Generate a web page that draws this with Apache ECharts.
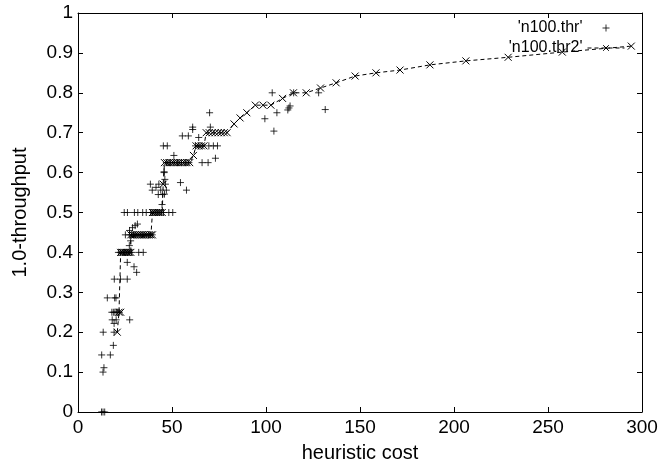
<!DOCTYPE html>
<html>
<head>
<meta charset="utf-8">
<script src="https://cdn.jsdelivr.net/npm/echarts@6/dist/echarts.min.js"></script>
<style>
  html, body { margin: 0; padding: 0; background: #fff; }
  #chart { width: 662px; height: 468px; }
</style>
</head>
<body>
<div id="chart"></div>
<script>
// n100.thr : scattered '+' points (heuristic cost, 1.0-throughput)
const thrCost = [
  12.5, 13.3, 14.2, 13.3, 13.8, 12.6, 17.2, 18.8, 13.4, 19.2, 19.2, 18.2, 20.3, 27.5,
  18.0, 18.8, 19.6, 20.4, 21.2, 22.0, 15.6, 19.5, 20.2, 19.3, 22.6, 26.2,
  31.2, 29.8, 26.2,
  21.5, 22.5, 23.5, 24.5, 25.5, 26.5, 27.5, 28.5, 32.3, 34.7,
  27.3, 28.0,
  25.2, 27.5, 28.5, 29.5, 30.5, 31.5, 32.5, 33.5, 34.5, 35.5, 36.5, 37.5, 38.5, 39.5,
  27.4, 29.0, 30.4, 31.6,
  24.6, 26.3, 30.0, 31.8, 34.4, 36.3, 38.6, 39.5, 40.5, 41.5, 42.5, 43.5, 44.5, 45.5, 48.3, 50.4,
  44.7, 46.0,
  38.5, 39.5, 41.5, 43.0, 44.0, 45.0, 46.5, 47.0, 42.7, 45.8, 46.2, 54.5, 57.7, 45.8,
  47.0, 49.0, 51.0, 53.0, 55.0, 57.0, 59.0, 66.0, 69.2, 73.1,
  51.0,
  45.4, 47.5, 62.5, 64.0, 66.0, 69.6, 72.0, 74.2,
  64.2, 55.5, 58.7, 61.0, 61.0, 70.4, 70.0,
  99.4, 103.3, 105.8, 104.2, 111.6, 112.2, 112.8, 114.7, 128.0, 131.5
];
const thrValue = [
  0, 0, 0, 0.1, 0.111, 0.143, 0.143, 0.167, 0.2, 0.2, 0.222, 0.231, 0.231, 0.231,
  0.25, 0.25, 0.25, 0.25, 0.25, 0.25, 0.286, 0.286, 0.286, 0.333, 0.333, 0.333,
  0.35, 0.364, 0.375,
  0.4, 0.4, 0.4, 0.4, 0.4, 0.4, 0.4, 0.4, 0.4, 0.4,
  0.417, 0.429,
  0.444, 0.444, 0.444, 0.444, 0.444, 0.444, 0.444, 0.444, 0.444, 0.444, 0.444, 0.444, 0.444, 0.444,
  0.455, 0.462, 0.467, 0.471,
  0.5, 0.5, 0.5, 0.5, 0.5, 0.5, 0.5, 0.5, 0.5, 0.5, 0.5, 0.5, 0.5, 0.5, 0.5, 0.5,
  0.52, 0.546,
  0.571, 0.556, 0.563, 0.571, 0.556, 0.545, 0.571, 0.556, 0.545, 0.6, 0.583, 0.575, 0.556, 0.602,
  0.625, 0.625, 0.625, 0.625, 0.625, 0.625, 0.625, 0.625, 0.625, 0.636,
  0.643,
  0.667, 0.667, 0.667, 0.667, 0.667, 0.667, 0.667, 0.667,
  0.688, 0.692, 0.692, 0.708, 0.714, 0.714, 0.75,
  0.735, 0.8, 0.75, 0.704, 0.757, 0.762, 0.767, 0.8, 0.8, 0.758
];

// n100.thr2 : dashed line with 'x' markers
const thr2Cost = [
  20.9, 21.8, 22.7, 22.7, 23.6, 24.5, 25.4, 26.3, 27.2, 28.1,
  28.1, 29.2, 30.4, 31.6, 32.8, 34.0, 35.2, 36.4, 37.6, 38.8, 39.6,
  39.6, 40.6, 41.6, 42.6, 43.6, 44.8, 45.3,
  46.0, 47.2, 48.4, 49.6, 50.8, 52.0, 53.2, 54.4, 55.6, 56.8, 58.0, 59.4,
  61.4, 62.8, 64.2, 65.6, 67.0,
  68.2, 69.8, 71.4, 73.0, 74.6, 76.2, 77.8, 79.3,
  83.0, 86.2, 89.8, 94.3, 98.4, 102.6, 108.8, 114.6, 121.4, 129.0, 137.3,
  147.4, 158.5, 171.3, 187.2, 206.3, 228.8, 257.6, 294.3
];
const thr2Value = [
  0.2, 0.25, 0.25, 0.4, 0.4, 0.4, 0.4, 0.4, 0.4, 0.4,
  0.444, 0.444, 0.444, 0.444, 0.444, 0.444, 0.444, 0.444, 0.444, 0.444, 0.444,
  0.5, 0.5, 0.5, 0.5, 0.5, 0.5, 0.571,
  0.625, 0.625, 0.625, 0.625, 0.625, 0.625, 0.625, 0.625, 0.625, 0.625, 0.625, 0.625,
  0.643, 0.667, 0.667, 0.667, 0.667,
  0.7, 0.7, 0.7, 0.7, 0.7, 0.7, 0.7, 0.7,
  0.722, 0.737, 0.75, 0.769, 0.769, 0.769, 0.786, 0.8, 0.8, 0.812, 0.825,
  0.842, 0.85, 0.857, 0.87, 0.88, 0.889, 0.902, 0.917
];

const plusSymbol = 'path://M5,0L5,10M0,5L10,5';
const crossSymbol = 'path://M0,0L10,10M0,10L10,0';
const font = 'Liberation Sans, Arial, Helvetica, sans-serif';

const chart = echarts.init(document.getElementById('chart'));

const tickStyle = { show: true, inside: true, length: 5, lineStyle: { color: '#000', width: 1 } };
const lineStyle = { show: true, onZero: false, lineStyle: { color: '#000', width: 1 } };

chart.setOption({
  animation: false,
  backgroundColor: '#fff',
  grid: { left: 78, right: 20, top: 13, bottom: 54.5 },
  legend: {
    orient: 'vertical',
    right: 32,
    top: 15,
    align: 'right',
    itemWidth: 37,
    itemHeight: 7,
    itemGap: 4,
    itemStyle: { borderWidth: 1, borderColor: '#000', color: '#000' },
    lineStyle: { width: 1, type: [4, 3], color: '#000' },
    textStyle: { fontFamily: font, fontSize: 16, color: '#000' },
    data: ["'n100.thr'", "'n100.thr2'"]
  },
  xAxis: [
    {
      type: 'value', min: 0, max: 300, interval: 50,
      name: 'heuristic cost', nameLocation: 'middle', nameGap: 31,
      nameTextStyle: { fontFamily: font, fontSize: 20, color: '#000' },
      axisLine: lineStyle, axisTick: tickStyle, splitLine: { show: false },
      axisLabel: { fontFamily: font, fontSize: 19, color: '#000', margin: 6 }
    },
    {
      type: 'value', min: 0, max: 300, interval: 50, position: 'top',
      axisLine: lineStyle, axisTick: tickStyle, splitLine: { show: false },
      axisLabel: { show: false }
    }
  ],
  yAxis: [
    {
      type: 'value', min: 0, max: 1, interval: 0.1,
      name: '1.0-throughput', nameLocation: 'middle', nameGap: 48,
      nameTextStyle: { fontFamily: font, fontSize: 20, color: '#000' },
      axisLine: lineStyle, axisTick: tickStyle, splitLine: { show: false },
      axisLabel: { fontFamily: font, fontSize: 19, color: '#000', margin: 5 }
    },
    {
      type: 'value', min: 0, max: 1, interval: 0.1, position: 'right',
      axisLine: lineStyle, axisTick: tickStyle, splitLine: { show: false },
      axisLabel: { show: false }
    }
  ],
  series: [
    {
      name: "'n100.thr'",
      type: 'scatter',
      symbol: plusSymbol,
      symbolSize: 7,
      itemStyle: { color: '#000', borderColor: '#000', borderWidth: 1 },
      data: thrCost.map((c, i) => [c, thrValue[i]]),
      z: 3
    },
    {
      name: "'n100.thr2'",
      type: 'line',
      symbol: crossSymbol,
      symbolSize: 7,
      showAllSymbol: true,
      itemStyle: { color: '#000', borderColor: '#000', borderWidth: 1 },
      lineStyle: { color: '#000', width: 1, type: [4, 3] },
      data: thr2Cost.map((c, i) => [c, thr2Value[i]]),
      z: 2
    }
  ]
});
</script>
</body>
</html>
